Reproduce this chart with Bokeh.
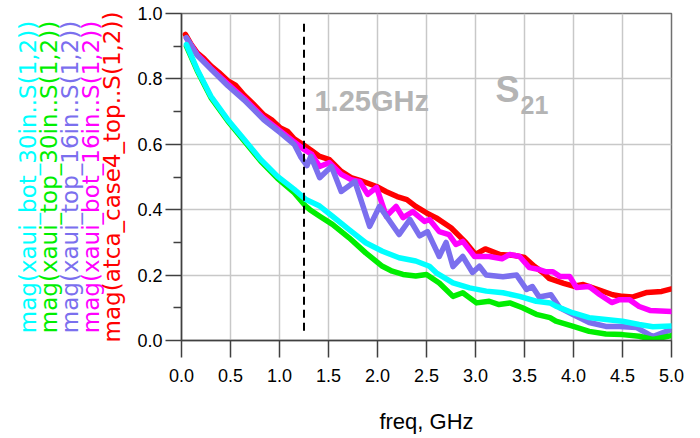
from bokeh.plotting import figure
from bokeh.models import Range1d, FixedTicker, NumeralTickFormatter, Label, LinearAxis, Title
from bokeh.embed import file_html
from bokeh.resources import INLINE

# ---- data ----
red_f = [0.04, 0.10, 0.16, 0.23, 0.30, 0.38, 0.47, 0.55, 0.64, 0.72, 0.84, 0.92, 1.01, 1.08, 1.15, 1.25,
         1.33, 1.41, 1.51, 1.63, 1.73, 1.82, 1.99, 2.09, 2.20, 2.30, 2.39, 2.50, 2.60, 2.75, 2.90, 3.00,
         3.10, 3.25, 3.40, 3.50, 3.60, 3.70, 3.75, 3.90, 4.00, 4.10, 4.25, 4.40, 4.50, 4.60, 4.75, 4.90, 5.00]
red_v = [0.936, 0.905, 0.880, 0.862, 0.840, 0.820, 0.795, 0.781, 0.750, 0.727, 0.690, 0.675, 0.650, 0.640, 0.617, 0.597,
         0.580, 0.563, 0.553, 0.517, 0.498, 0.490, 0.471, 0.455, 0.440, 0.431, 0.410, 0.390, 0.375, 0.345, 0.300, 0.263,
         0.280, 0.263, 0.260, 0.254, 0.227, 0.205, 0.190, 0.175, 0.166, 0.171, 0.156, 0.140, 0.135, 0.133, 0.147, 0.150, 0.158]

magenta_f = [0.05, 0.16, 0.30, 0.47, 0.64, 0.84, 1.01, 1.15, 1.25, 1.33, 1.41, 1.51, 1.63, 1.73, 1.82, 1.90,
             1.99, 2.09, 2.19, 2.26, 2.36, 2.48, 2.53, 2.63, 2.73, 2.80, 2.87, 2.99, 3.14, 3.27, 3.35, 3.45,
             3.55, 3.65, 3.72, 3.79, 3.86, 3.96, 4.03, 4.16, 4.27, 4.39, 4.47, 4.57, 4.67, 4.78, 5.00]
magenta_v = [0.925, 0.875, 0.832, 0.785, 0.740, 0.680, 0.640, 0.607, 0.584, 0.569, 0.532, 0.544, 0.508, 0.492, 0.486, 0.447,
             0.468, 0.380, 0.410, 0.376, 0.394, 0.364, 0.370, 0.333, 0.324, 0.294, 0.303, 0.257, 0.257, 0.250, 0.263, 0.257,
             0.223, 0.217, 0.210, 0.210, 0.196, 0.196, 0.162, 0.165, 0.140, 0.116, 0.125, 0.125, 0.104, 0.092, 0.089]

purple_f = [0.05, 0.16, 0.30, 0.47, 0.64, 0.84, 1.01, 1.15, 1.22, 1.28, 1.32, 1.41, 1.53, 1.63, 1.77, 1.92,
            2.02, 2.22, 2.33, 2.43, 2.51, 2.63, 2.70, 2.77, 2.87, 2.97, 3.04, 3.11, 3.28, 3.42, 3.52, 3.58,
            3.65, 3.77, 3.86, 3.99, 4.16, 4.33, 4.47, 4.64, 4.81, 5.00]
purple_v = [0.926, 0.872, 0.830, 0.780, 0.735, 0.675, 0.635, 0.600, 0.560, 0.535, 0.563, 0.498, 0.532, 0.456, 0.486, 0.349,
            0.410, 0.324, 0.370, 0.320, 0.333, 0.257, 0.300, 0.226, 0.257, 0.208, 0.227, 0.200, 0.195, 0.200, 0.156, 0.165,
            0.133, 0.140, 0.100, 0.080, 0.055, 0.043, 0.043, 0.040, 0.012, 0.034]

green_f = [0.05, 0.16, 0.30, 0.47, 0.64, 0.81, 0.98, 1.15, 1.27, 1.31, 1.41, 1.54, 1.71, 1.88, 2.05, 2.15,
           2.26, 2.39, 2.50, 2.63, 2.77, 2.87, 3.01, 3.14, 3.24, 3.35, 3.48, 3.62, 3.76, 3.82, 3.99, 4.16,
           4.33, 4.50, 4.67, 4.81, 5.00]
green_v = [0.900, 0.825, 0.743, 0.672, 0.610, 0.548, 0.496, 0.452, 0.410, 0.400, 0.380, 0.355, 0.314, 0.268, 0.227, 0.212,
           0.202, 0.197, 0.202, 0.176, 0.135, 0.146, 0.115, 0.120, 0.110, 0.115, 0.100, 0.080, 0.070, 0.059, 0.044, 0.028,
           0.020, 0.018, 0.013, 0.003, 0.015]

cyan_f = [0.05, 0.16, 0.30, 0.47, 0.64, 0.81, 0.98, 1.15, 1.27, 1.41, 1.54, 1.71, 1.88, 2.05, 2.22, 2.39,
          2.53, 2.60, 2.77, 2.94, 3.11, 3.28, 3.45, 3.62, 3.76, 3.82, 3.99, 4.16, 4.33, 4.50, 4.67, 4.81, 5.00]
cyan_v = [0.905, 0.829, 0.747, 0.676, 0.615, 0.553, 0.502, 0.462, 0.431, 0.411, 0.380, 0.339, 0.299, 0.273, 0.253, 0.243,
          0.227, 0.207, 0.176, 0.161, 0.151, 0.146, 0.135, 0.120, 0.115, 0.105, 0.085, 0.070, 0.064, 0.059, 0.049, 0.042, 0.044]

series_names = ["mag(xaui_bot_30in..S(1,2))", "mag(xaui_top_30in..S(1,2))", "mag(xaui_top_16in..S(1,2))",
                "mag(xaui_bot_16in..S(1,2))", "mag(atca_case4_top..S(1,2))"]
series_colors = ["#00FFFF", "#00EE00", "#7B6FEE", "#FF00FF", "#FF0000"]

x_ticks = [0.0, 0.5, 1.0, 1.5, 2.0, 2.5, 3.0, 3.5, 4.0, 4.5, 5.0]
y_ticks = [0.0, 0.2, 0.4, 0.6, 0.8, 1.0]
y_minor = [0.1, 0.3, 0.5, 0.7, 0.9]

marker_freq = 1.25
marker_lo, marker_hi = 0.03, 0.98

FONT = "Liberation Sans"

p = figure(width=691, height=436, output_backend="svg", toolbar_location=None,
           x_range=Range1d(0, 5), y_range=Range1d(0, 1),
           min_border_left=181, min_border_right=20, min_border_top=13, min_border_bottom=96,
           background_fill_color="white", border_fill_color="white")

p.outline_line_color = "#707070"
p.outline_line_width = 1.5

p.xgrid.ticker = FixedTicker(ticks=x_ticks)
p.ygrid.ticker = FixedTicker(ticks=y_ticks)
for g in (p.xgrid, p.ygrid):
    g.grid_line_color = "#c8c8c8"
    g.grid_line_width = 1.5

p.xaxis.ticker = FixedTicker(ticks=x_ticks)
p.yaxis.ticker = FixedTicker(ticks=y_ticks, minor_ticks=y_minor)
p.xaxis.formatter = NumeralTickFormatter(format="0.0")
p.yaxis.formatter = NumeralTickFormatter(format="0.0")
for ax in (p.xaxis, p.yaxis):
    ax.axis_line_color = "#404040"
    ax.axis_line_width = 1.5
    ax.major_tick_line_color = "#404040"
    ax.major_tick_line_width = 1.5
    ax.minor_tick_line_color = "#404040"
    ax.minor_tick_line_width = 1.5
    ax.major_tick_in = 0
    ax.minor_tick_in = 0
    ax.major_label_text_font = FONT
    ax.major_label_text_font_size = "18px"
    ax.major_label_text_color = "black"
p.xaxis.major_tick_out = 17
p.xaxis.minor_tick_out = 0
p.xaxis.major_label_standoff = 11
p.yaxis.major_tick_out = 16
p.yaxis.minor_tick_out = 8
p.yaxis.major_label_standoff = 3

# spacer label on the x axis, then the x axis title as a title panel below it
p.xaxis.axis_label = " "
p.xaxis.axis_label_text_font_size = "1px"
p.xaxis.axis_label_standoff = 18
p.add_layout(Title(text="freq, GHz", align="center", text_font=FONT, text_font_size="22px",
                   text_font_style="normal", text_color="black", standoff=0), "below")

# rotated series names on the left, as label-only axes (nearest to the frame first: red ... cyan)
standoffs = [-8, -8, -8, -8, 10]   # cyan, green, purple, magenta, red
for i in [4, 3, 2, 1, 0]:
    ax = LinearAxis(ticker=FixedTicker(ticks=[]), axis_label=series_names[i])
    ax.axis_line_color = None
    ax.major_tick_line_color = None
    ax.minor_tick_line_color = None
    ax.major_tick_out = 0
    ax.minor_tick_out = 0
    ax.major_label_text_font_size = "1px"
    ax.axis_label_text_font = "DejaVu Sans"
    ax.axis_label_text_font_size = "23px"
    ax.axis_label_text_font_style = "normal"
    ax.axis_label_text_color = series_colors[i]
    ax.axis_label_standoff = standoffs[i]
    p.add_layout(ax, "left")

curves = [(red_f, red_v, series_colors[4]), (magenta_f, magenta_v, series_colors[3]),
          (purple_f, purple_v, series_colors[2]), (green_f, green_v, series_colors[1]),
          (cyan_f, cyan_v, series_colors[0])]
for f, v, c in curves:
    p.line(f, v, line_color=c, line_width=5.5, line_join="round", line_cap="round")

p.segment(x0=[marker_freq], y0=[marker_lo], x1=[marker_freq], y1=[marker_hi],
          line_color="black", line_width=2, line_dash="8 5")

p.add_layout(Label(x=1.357, y=0.732, text="1.25GHz", text_font=FONT, text_font_size="29px",
                   text_font_style="bold", text_color="#b4b4b4", text_baseline="middle"))
p.add_layout(Label(x=3.204, y=0.768, text="S", text_font=FONT, text_font_size="36px",
                   text_font_style="bold", text_color="#b4b4b4", text_baseline="middle"))
p.add_layout(Label(x=3.459, y=0.719, text="21", text_font=FONT, text_font_size="25px",
                   text_font_style="bold", text_color="#b4b4b4", text_baseline="middle"))

open("out.html", "w").write(file_html(p, INLINE))
